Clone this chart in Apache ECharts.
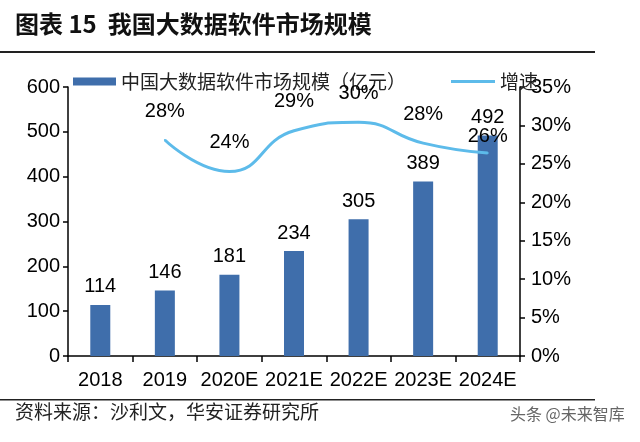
<!DOCTYPE html>
<html><head><meta charset="utf-8">
<script src="https://cdn.jsdelivr.net/npm/echarts@6/dist/echarts.min.js"></script>
<style>html,body{margin:0;padding:0;background:#fff}#c{width:640px;height:442px}</style>
</head><body><div id="c"></div>
<script>
var categories = ['2018','2019','2020E','2021E','2022E','2023E','2024E'];
var marketSize = [114,146,181,234,305,389,492];
var growth = [null,28.1,24.0,29.3,30.4,27.7,26.4];
var leftTicks = [0,100,200,300,400,500,600];
var rightTicks = [0,5,10,15,20,25,30,35];

var chart = echarts.init(document.getElementById('c'));
var F = 'Liberation Sans, Arial, sans-serif';
var CJK = 'Noto Sans CJK SC, sans-serif';
var LINE = '#5DBBEA';
var lineDist = [18,18,18,18,18,18,6];
chart.setOption({
  animation:false,
  grid:{left:68,right:120,top:87,bottom:86},
  legend:[{
    left:68, top:67, itemWidth:43, itemHeight:8,
    textStyle:{fontFamily:CJK,fontSize:19,color:'#222'},
    data:[{name:'中国大数据软件市场规模（亿元）',icon:'rect'}]
  },{
    left:446, top:67, itemWidth:44, itemHeight:3,
    textStyle:{fontFamily:CJK,fontSize:19,color:'#222'},
    data:[{name:'增速',icon:'rect',itemStyle:{color:LINE,opacity:1}}]
  }],
  xAxis:{type:'category',data:categories,
    axisLine:{lineStyle:{color:'#000',width:1.5}},
    axisTick:{show:true,inside:false,length:6,lineStyle:{color:'#000',width:1.5}},
    axisLabel:{interval:0,fontFamily:F,fontSize:20,color:'#000',margin:14}},
  yAxis:[{type:'value',min:leftTicks[0],max:leftTicks[leftTicks.length-1],interval:leftTicks[1]-leftTicks[0],
    axisLine:{show:true,lineStyle:{color:'#000',width:1.5}},
    axisTick:{show:true,length:5,lineStyle:{color:'#000',width:1.5}},
    splitLine:{show:false},
    axisLabel:{fontFamily:F,fontSize:20,color:'#000',margin:8}},
   {type:'value',min:rightTicks[0],max:rightTicks[rightTicks.length-1],interval:rightTicks[1]-rightTicks[0],
    axisLine:{show:true,lineStyle:{color:'#000',width:1.5}},
    axisTick:{show:true,length:5,lineStyle:{color:'#000',width:1.5}},
    splitLine:{show:false},
    axisLabel:{fontFamily:F,fontSize:20,color:'#000',margin:11,formatter:'{value}%'}}],
  series:[
    {name:'中国大数据软件市场规模（亿元）',type:'bar',data:marketSize,barWidth:20,
     itemStyle:{color:'#3F6EAB'},
     label:{show:true,position:'top',distance:8,fontFamily:F,fontSize:20,color:'#000'}},
    {name:'增速',type:'line',yAxisIndex:1,smooth:0.5,symbol:'circle',symbolSize:2,showSymbol:true,
     data:growth.map(function(v,i){return {value:v,label:{distance:lineDist[i]}};}),
     lineStyle:{color:LINE,width:3},itemStyle:{color:LINE},
     label:{show:true,position:'top',fontFamily:F,fontSize:20,color:'#000',formatter:function(p){return p.value==null?'':Math.round(p.value)+'%';}},
     z:5}
  ],
  graphic:[
    {type:'text',left:15,top:12,style:{text:'图表 15  我国大数据软件市场规模',font:'bold 24px '+CJK,fill:'#111'}},
    {type:'rect',shape:{x:0,y:51,width:595,height:2},style:{fill:'#222'}},
    {type:'rect',shape:{x:0,y:399,width:595,height:1.5},style:{fill:'#222'}},
    {type:'text',left:15,top:402,style:{text:'资料来源：沙利文，华安证券研究所',font:'19px '+CJK,fill:'#222'}},
    {type:'text',left:510,top:406,style:{text:'头条 @未来智库',font:'16px '+CJK,fill:'#666'}}
  ]
});
</script></body></html>
